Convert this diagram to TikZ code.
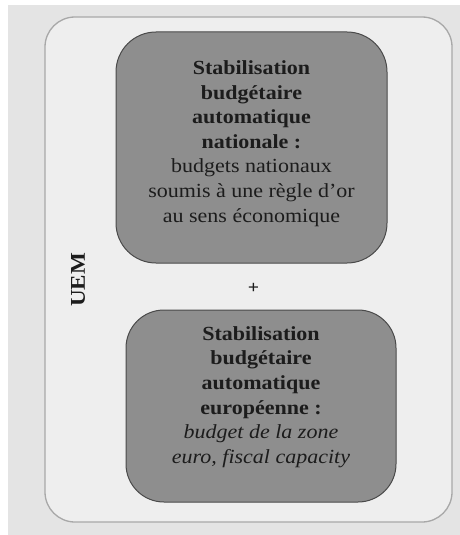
\documentclass[tikz,border=0pt]{standalone}
\usepackage{fontspec}
\setmainfont{Liberation Serif}[FakeStretch=1.1]
\definecolor{outerbg}{HTML}{E4E4E4}
\definecolor{innerbg}{HTML}{EEEEEE}
\definecolor{innerline}{HTML}{A8A8A8}
\definecolor{boxfill}{HTML}{8E8E8E}
\definecolor{boxline}{HTML}{4A4A4A}
\definecolor{txt}{HTML}{1C1C1C}
\tikzset{
  px/.style={x=1pt,y=-1pt},
  bigbox/.style={draw=boxline,fill=boxfill,line width=1pt,rounded corners=40pt,inner sep=0pt},
  boxtext/.style={align=center,text=txt,font=\fontsize{20}{24.6}\selectfont,inner sep=0pt},
}
\begin{document}
\begin{tikzpicture}[px]
\useasboundingbox (0,0) rectangle (460,535);
\fill[white] (0,0) rectangle (460,535);
\fill[outerbg] (8,5) rectangle (460,535);
\draw[innerline,fill=innerbg,line width=1.3pt,rounded corners=30pt] (45,17) rectangle (452,522);
\node[bigbox,minimum width=271pt,minimum height=231pt] (top) at (251.5,147.5) {};
\node[boxtext] (toptext) at ([yshift=4pt]top.center)
  {\textbf{Stabilisation}\\\textbf{budgétaire}\\\textbf{automatique}\\\textbf{nationale :}\\budgets nationaux\\soumis à une règle d’or\\au sens économique};
\node[bigbox,minimum width=270pt,minimum height=192pt,rounded corners=38pt] (bot) at (261,406) {};
\node[boxtext] (bottext) at ([yshift=9pt]bot.center)
  {\textbf{Stabilisation}\\\textbf{budgétaire}\\\textbf{automatique}\\\textbf{européenne :}\\\textit{budget de la zone}\\\textit{euro, fiscal capacity}};
\node[text=txt,font=\fontsize{18}{18}\selectfont\bfseries,inner sep=0pt] (plus) at (253.5,288) {+};
\node[text=txt,font=\fontsize{21}{21}\selectfont\bfseries,rotate=90,inner sep=0pt] (uem) at (78,280) {UEM};
\end{tikzpicture}
\end{document}
